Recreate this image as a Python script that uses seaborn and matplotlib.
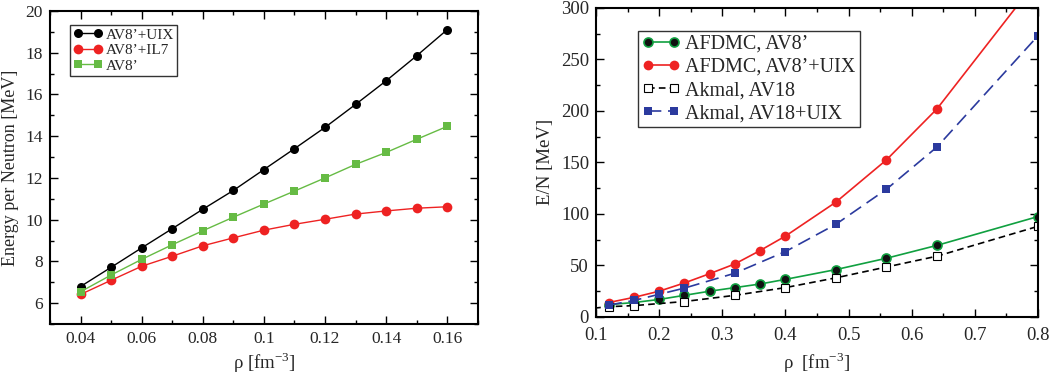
import matplotlib
matplotlib.use("Agg")
import matplotlib.pyplot as plt
from matplotlib.ticker import MultipleLocator
import seaborn as sns
import pandas as pd

# ---- Left panel data ----
rho_left = [0.04, 0.05, 0.06, 0.07, 0.08, 0.09, 0.10, 0.11, 0.12, 0.13, 0.14, 0.15, 0.16]
e_av8_uix = [6.8, 7.72, 8.65, 9.57, 10.5, 11.4, 12.4, 13.4, 14.42, 15.52, 16.65, 17.85, 19.1]
e_av8_il7 = [6.42, 7.1, 7.77, 8.25, 8.75, 9.13, 9.5, 9.78, 10.02, 10.27, 10.42, 10.55, 10.62]
e_av8 = [6.55, 7.35, 8.1, 8.8, 9.47, 10.12, 10.75, 11.37, 12.0, 12.65, 13.22, 13.85, 14.47]

# ---- Right panel data ----
rho_afdmc = [0.12, 0.16, 0.20, 0.24, 0.28, 0.32, 0.36, 0.40, 0.48, 0.56, 0.64, 0.80]
afdmc_av8 = [12, 14, 17, 21, 25, 28.5, 32, 36.5, 46, 57, 69.5, 97.5]
afdmc_av8_uix = [14, 19, 25, 33, 42, 51.5, 64.5, 78.5, 111.5, 152.5, 202, 328]
rho_akmal = [0.08, 0.12, 0.16, 0.24, 0.32, 0.40, 0.48, 0.56, 0.64, 0.80]
akmal_av18 = [7.5, 10, 11, 15, 21, 28.5, 38, 48.5, 59, 88]
rho_akmal_uix = [0.12, 0.16, 0.20, 0.24, 0.32, 0.40, 0.48, 0.56, 0.64, 0.80]
akmal_av18_uix = [11.5, 16, 22, 28, 42.5, 63.5, 90, 124, 165, 273]

sns.set_style("ticks")
plt.rcParams['font.family'] = ['Liberation Serif', 'DejaVu Serif']
plt.rcParams['mathtext.fontset'] = 'custom'
plt.rcParams['mathtext.rm'] = 'Liberation Serif'

fig = plt.figure(figsize=(10.5, 3.76), dpi=100)
ax1 = fig.add_axes([0.0476, 0.138, 0.4074, 0.833])
ax2 = fig.add_axes([0.5676, 0.157, 0.421, 0.822])

def style_axes(ax):
    for s in ax.spines.values():
        s.set_linewidth(1.5)
        s.set_color('black')
    ax.tick_params(which='both', direction='in', top=True, right=True, color='black', width=1.0)
    ax.tick_params(which='major', length=6, pad=5)
    ax.tick_params(which='minor', length=3)

# Left panel
df_l = pd.DataFrame({'rho': rho_left, 'uix': e_av8_uix, 'il7': e_av8_il7, 'av8': e_av8})
sns.lineplot(data=df_l, x='rho', y='uix', ax=ax1, color='black', lw=1.0, marker='o',
             markersize=6.5, markeredgewidth=0, label="AV8\u2019+UIX")
sns.lineplot(data=df_l, x='rho', y='il7', ax=ax1, color='#ee2222', lw=1.0, marker='o',
             markersize=7, markeredgewidth=0, label="AV8\u2019+IL7")
sns.lineplot(data=df_l, x='rho', y='av8', ax=ax1, color='#66bb44', lw=1.0, marker='s',
             markersize=5.5, markeredgewidth=0, label="AV8\u2019")
ax1.set_xlim(0.03, 0.17)
ax1.set_ylim(5, 20)
ax1.xaxis.set_minor_locator(MultipleLocator(0.01))
ax1.yaxis.set_minor_locator(MultipleLocator(1))
ax1.set_xticks([0.04, 0.06, 0.08, 0.10, 0.12, 0.14, 0.16])
ax1.set_xticklabels(['0.04', '0.06', '0.08', '0.1', '0.12', '0.14', '0.16'])
ax1.set_yticks([6, 8, 10, 12, 14, 16, 18, 20])
ax1.set_xlabel('\u03c1 [fm$^{-3}$]', fontsize=13.5, labelpad=2)
ax1.set_ylabel('Energy per Neutron [MeV]', fontsize=13, labelpad=5)
style_axes(ax1)
ax1.tick_params(which='major', labelsize=12.5)
leg1 = ax1.legend(loc='upper left', bbox_to_anchor=(0.047, 0.955), fontsize=11, frameon=True,
                  fancybox=False, edgecolor='black', handlelength=1.9, handletextpad=0.25,
                  labelspacing=0.12, borderpad=0.2, borderaxespad=0, numpoints=2)
leg1.get_frame().set_linewidth(1.0)

# Right panel
df_a = pd.DataFrame({'rho': rho_afdmc, 'av8': afdmc_av8, 'av8uix': afdmc_av8_uix})
df_k = pd.DataFrame({'rho': rho_akmal, 'av18': akmal_av18})
df_ku = pd.DataFrame({'rho': rho_akmal_uix, 'av18uix': akmal_av18_uix})
sns.lineplot(data=df_a, x='rho', y='av8', ax=ax2, color='#10a040', lw=1.2, marker='o',
             markersize=6.5, markerfacecolor='#111111', markeredgecolor='#10a040',
             markeredgewidth=1.2, label="AFDMC, AV8\u2019")
sns.lineplot(data=df_a, x='rho', y='av8uix', ax=ax2, color='#ee2222', lw=1.2, marker='o',
             markersize=7, markeredgewidth=0, label="AFDMC, AV8\u2019+UIX")
sns.lineplot(data=df_k, x='rho', y='av18', ax=ax2, color='black', lw=1.2, marker='s',
             markersize=5.5, markerfacecolor='white', markeredgecolor='black',
             markeredgewidth=0.8, dashes=(4, 2.5), label="Akmal, AV18")
sns.lineplot(data=df_ku, x='rho', y='av18uix', ax=ax2, color='#2b3a9e', lw=1.2, marker='s',
             markersize=6, markeredgewidth=0, dashes=(8, 4), label="Akmal, AV18+UIX")
ax2.set_xlim(0.1, 0.8)
ax2.set_ylim(0, 300)
ax2.xaxis.set_minor_locator(MultipleLocator(0.05))
ax2.yaxis.set_minor_locator(MultipleLocator(25))
ax2.set_xticks([0.1, 0.2, 0.3, 0.4, 0.5, 0.6, 0.7, 0.8])
ax2.set_xticklabels(['0.1', '0.2', '0.3', '0.4', '0.5', '0.6', '0.7', '0.8'])
ax2.set_yticks([0, 50, 100, 150, 200, 250, 300])
ax2.set_xlabel('\u03c1  [fm$^{-3}$]', fontsize=13.5, labelpad=5)
ax2.set_ylabel('E/N [MeV]', fontsize=13.5, labelpad=5)
style_axes(ax2)
ax2.tick_params(which='major', labelsize=13.5)
ax2.tick_params(axis='x', which='major', pad=7)
leg2 = ax2.legend(loc='upper left', bbox_to_anchor=(0.095, 0.926), fontsize=14.5, frameon=True,
                  fancybox=False, edgecolor='black', handlelength=1.9, handletextpad=0.25,
                  labelspacing=0.2, borderpad=0.2, borderaxespad=0, numpoints=2)
leg2.get_frame().set_linewidth(1.0)

fig.savefig('out.png', dpi=100)
